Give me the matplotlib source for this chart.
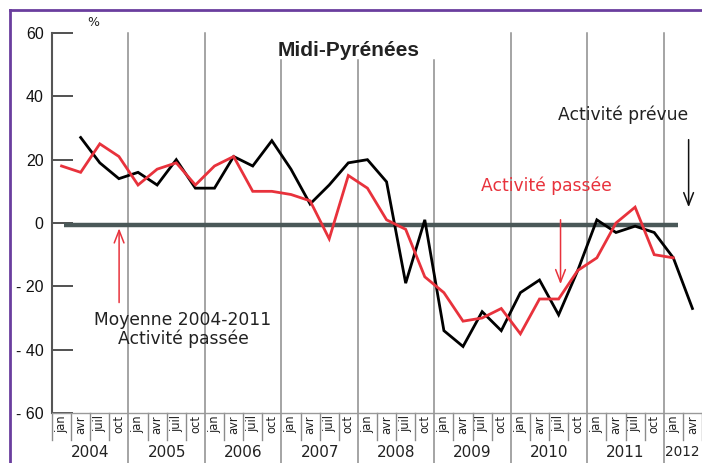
import matplotlib
matplotlib.use("Agg")
import matplotlib.pyplot as plt
from matplotlib.lines import Line2D
import matplotlib.transforms as mtransforms

years = ["2004", "2005", "2006", "2007", "2008", "2009", "2010", "2011", "2012"]
quarters = ["jan", "avr", "juil", "oct"]
n_quarters = 34  # jan 2004 .. avr 2012

# Activité passée (red) from jan 2004 to jan 2012
passee = [18, 16, 25, 21, 12, 17, 19, 12, 18, 21, 10, 10, 9, 7, -5, 15,
          11, 1, -2, -17, -22, -31, -30, -27, -35, -24, -24, -15, -11, 0, 5, -10, -11]
# Activité prévue (black) from avr 2004 to avr 2012
prevue = [27, 19, 14, 16, 12, 20, 11, 11, 21, 18, 26, 17, 6, 12, 19,
          20, 13, -19, 1, -34, -39, -28, -34, -22, -18, -29, -15, 1, -3, -1, -3, -11, -27]
moyenne = -0.5

W, H = 702, 463
fig = plt.figure(figsize=(W / 100, H / 100), dpi=100)
ax = fig.add_axes([52 / W, (H - 413) / H, (W - 52) / W, 380 / H])
ax.set_xlim(0, n_quarters)
ax.set_ylim(-60, 60)

for s in ["top", "right"]:
    ax.spines[s].set_visible(False)
ax.spines["left"].set_color("#555555")
ax.spines["left"].set_linewidth(1.5)
ax.spines["bottom"].set_color("#999999")
ax.spines["bottom"].set_linewidth(1.0)

ax.set_yticks([60, 40, 20, 0, -20, -40, -60])
ax.set_yticklabels(["60", "40", "20", "0", "- 20", "- 40", "- 60"],
                   fontfamily="Liberation Sans", fontsize=11.5, color="#111111")
ax.tick_params(axis="y", direction="in", length=15, width=1.2, color="#333333", pad=6)
ax.set_xticks([])

trans = mtransforms.blended_transform_factory(ax.transData, ax.transAxes)

# year separators
for k in range(1, 9):
    x = 4 * k
    top = 0.929 if x in (12, 16, 20) else 1.0
    ax.add_line(Line2D([x, x], [-0.135, top], transform=trans, color="#8c8c8c",
                       lw=1.1, clip_on=False, zorder=1))
# quarter separators in label row
for i in range(0, n_quarters + 1):
    if i % 4 != 0 or i == 0:
        ax.add_line(Line2D([i, i], [-0.072, 0], transform=trans, color="#8c8c8c",
                           lw=1.0, clip_on=False, zorder=1))
# quarter labels
for i in range(n_quarters):
    ax.text(i + 0.5, -0.005, quarters[i % 4], transform=trans, rotation=90,
            ha="center", va="top", fontsize=8.3, color="#222222",
            fontfamily="DejaVu Sans")
# year labels
for k, yr in enumerate(years):
    if k < 8:
        ax.text(4 * k + 2, -0.103, yr, transform=trans, ha="center",
                va="center", fontsize=11, color="#222222", fontfamily="DejaVu Sans")
    else:
        ax.text(4 * k + 0.06, -0.103, yr, transform=trans, ha="left",
                va="center", fontsize=9.8, color="#222222", fontfamily="DejaVu Sans")

# mean line
ax.hlines(moyenne, 0.63, 32.74, color="#4a5858", lw=3.2, zorder=2)

xp = [i + 0.5 for i in range(len(passee))]
xb = [i + 1.5 for i in range(len(prevue))]
ax.plot(xb, prevue, color="#000000", lw=2.0, zorder=4, solid_joinstyle="miter")
ax.plot(xp, passee, color="#e8323c", lw=2.0, zorder=5, solid_joinstyle="miter")

ax.text(15.5, 54.6, "Midi-Pyrénées", ha="center", va="center", fontsize=15,
        fontweight="bold", fontfamily="Liberation Sans", color="#222222")

ax.text(26.45, 34.2, "Activité prévue", ha="left", va="center", fontsize=12.3,
        color="#222222", fontfamily="DejaVu Sans")
ax.text(22.45, 11.8, "Activité passée", ha="left", va="center", fontsize=12.3,
        color="#e8323c", fontfamily="DejaVu Sans")
ax.text(6.85, -33.6, "Moyenne 2004-2011\nActivité passée", ha="center", va="center",
        fontsize=12.3, color="#222222", fontfamily="DejaVu Sans", linespacing=1.0)

ax.annotate("", xy=(33.3, 4.1), xytext=(33.3, 27.2),
            arrowprops=dict(arrowstyle="->,head_length=0.9,head_width=0.35",
                            color="#111111", lw=1.1))
ax.annotate("", xy=(26.6, -20.2), xytext=(26.6, 1.9),
            arrowprops=dict(arrowstyle="->,head_length=0.9,head_width=0.35",
                            color="#e8323c", lw=1.1))
ax.annotate("", xy=(3.51, -0.8), xytext=(3.51, -26),
            arrowprops=dict(arrowstyle="->,head_length=0.9,head_width=0.35",
                            color="#e8323c", lw=1.1))

fig.text(93 / W, 1 - 22 / H, "%", ha="center", va="center", fontsize=9,
         color="#222222", fontfamily="DejaVu Sans")

# purple frame
fig.add_artist(Line2D([10 / W, 1], [1 - 10 / H, 1 - 10 / H], transform=fig.transFigure,
                      color="#6a3d9e", lw=2.0))
fig.add_artist(Line2D([10 / W, 10 / W], [0, 1 - 10 / H], transform=fig.transFigure,
                      color="#6a3d9e", lw=2.0))

fig.savefig("out.png", dpi=100)
